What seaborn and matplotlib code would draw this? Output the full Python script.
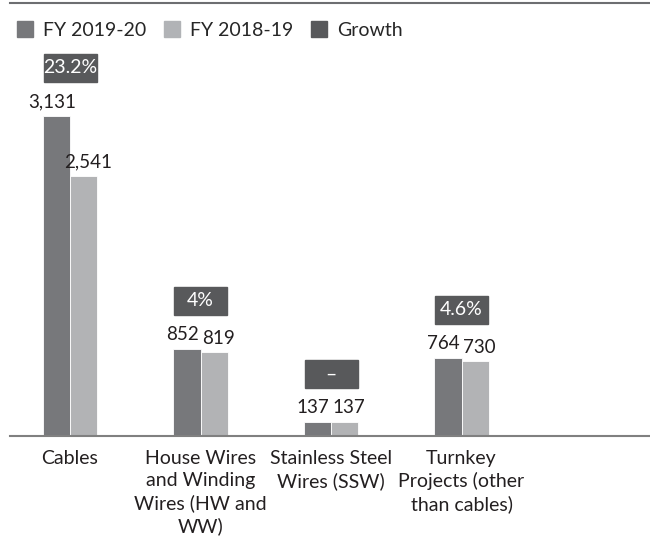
import pandas as pd
import matplotlib.pyplot as plt
from matplotlib.patches import Patch, Rectangle
import seaborn as sns

# Chart data
categories = ['Cables', 'House Wires\nand Winding\nWires (HW and\nWW)',
              'Stainless Steel\nWires (SSW)', 'Turnkey\nProjects (other\nthan cables)']
fy20 = [3131, 852, 137, 764]
fy19 = [2541, 819, 137, 730]
growth = ['23.2%', '4%', '–', '4.6%']
series = ['FY 2019-20', 'FY 2018-19']

dark = '#77787b'
light = '#b1b3b6'
box_col = '#58595b'

sns.set_theme(style='white')
plt.rcParams['font.family'] = ['Lato', 'DejaVu Sans']

df = pd.DataFrame({
    'cat': categories * 2,
    'value': fy20 + fy19,
    'year': [series[0]] * 4 + [series[1]] * 4,
})

fig = plt.figure(figsize=(6.5, 5.48), dpi=100)
ax = fig.add_axes([10 / 650, 112 / 548, 640 / 650, 433 / 548])

sns.barplot(data=df, x='cat', y='value', hue='year', order=categories,
            hue_order=series, palette=[dark, light], width=0.42,
            edgecolor='white', linewidth=0.6, legend=False, ax=ax)

ax.set_xlim(-0.46, 4.444)
ax.set_ylim(0, 4237)

# value labels, nudged apart a little like the original
for i, (a, b) in enumerate(zip(fy20, fy19)):
    ax.annotate(f'{a:,}', (i - 0.105, a), xytext=(-3, 4), textcoords='offset points',
                ha='center', va='bottom', fontsize=13.5, color='#231f20')
    ax.annotate(f'{b:,}', (i + 0.105, b), xytext=(3, 4), textcoords='offset points',
                ha='center', va='bottom', fontsize=13.5, color='#231f20')

# growth boxes
bw, bh = 0.406, 274
for i, g in enumerate(growth):
    yc = max(fy20[i], fy19[i]) + 470
    ax.add_patch(Rectangle((i - bw / 2, yc - bh / 2), bw, bh, color=box_col,
                           zorder=3, clip_on=False))
    ax.text(i, yc, g, ha='center', va='center', fontsize=14, color='white', zorder=4)

ax.set_xlabel('')
ax.set_ylabel('')
ax.set_yticks([])
ax.tick_params(axis='x', length=0, pad=10, labelsize=14, labelcolor='#231f20')
for lab in ax.get_xticklabels():
    lab.set_linespacing(1.35)
    lab.set_verticalalignment('top')

for s in ['left', 'right']:
    ax.spines[s].set_visible(False)
ax.spines['bottom'].set_color('#808080')
ax.spines['bottom'].set_linewidth(1.5)
ax.spines['top'].set_color('#6d6e71')
ax.spines['top'].set_linewidth(1.5)

handles = [Patch(color=dark), Patch(color=light), Patch(color=box_col)]
ax.legend(handles, ['FY 2019-20', 'FY 2018-19', 'Growth'], ncol=3,
          loc='upper left', bbox_to_anchor=(-0.008, 0.985), frameon=False,
          fontsize=14, handlelength=0.85, handleheight=0.85, handletextpad=0.5,
          columnspacing=0.9, borderaxespad=0.2)

fig.savefig('out.png', dpi=100)
